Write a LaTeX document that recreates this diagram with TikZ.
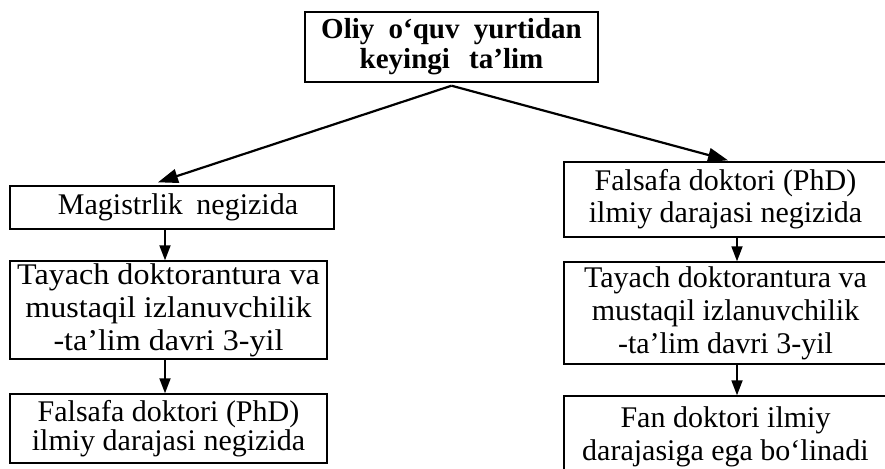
\documentclass[tikz,border=0pt]{standalone}
\usepackage{fontspec}
\setmainfont{Liberation Serif}
\newfontfamily\widefont[FakeStretch=1.07]{Liberation Serif}
\usetikzlibrary{arrows.meta}

\begin{document}
\begin{tikzpicture}[x=1pt,y=-1pt,
    box/.style={draw,line width=1.4pt,align=center,inner sep=0pt,font=\fontsize{30}{32}\selectfont},
    arr/.style={line width=1.8pt,-{Triangle[length=15pt,width=11pt]}},
    slant/.style={line width=2.2pt,-{Triangle[length=20pt,width=14pt]}}]
  \useasboundingbox (0,0) rectangle (885,468);
  \node[box,minimum width=293pt,minimum height=70pt,font=\bfseries\fontsize{29}{30}\selectfont] (top) at (451.5,47)
    {Oliy\hspace{7pt} o‘quv\hspace{7pt} yurtidan\\keyingi\hspace{12pt} ta’lim};
  % chap ustun
  \node[box,minimum width=324pt,minimum height=43pt] (mag) at (172,207.5) {\hspace*{12pt}Magistrlik\hspace{6pt} negizida};
  \node[box,minimum width=317pt,minimum height=98pt,font=\widefont\fontsize{30}{33}\selectfont] (tayL) at (168.5,310) {Tayach doktorantura va\\mustaqil izlanuvchilik\\-ta’lim davri 3-yil};
  \node[box,minimum width=317pt,minimum height=69pt,font=\fontsize{30}{29}\selectfont] (phdL) at (168.5,428.5) {Falsafa doktori (PhD)\\ilmiy darajasi negizida};
  % o'ng ustun
  \node[box,minimum width=323pt,minimum height=75pt] (phdR) at (725.5,199.5) {Falsafa doktori (PhD)\\ilmiy darajasi negizida};
  \node[box,minimum width=323pt,minimum height=102pt,font=\fontsize{30}{33}\selectfont] (tayR) at (725.5,313) {Tayach doktorantura va\\mustaqil izlanuvchilik\\-ta’lim davri 3-yil};
  \node[box,minimum width=323pt,minimum height=82pt,font=\fontsize{30}{33}\selectfont] (fan) at (725.5,437) {Fan doktori ilmiy\\darajasiga ega bo‘linadi};
  \draw[slant] ([yshift=-3pt]top.south) -- ([xshift=-14pt,yshift=3pt]mag.north);
  \draw[slant] ([yshift=-3pt]top.south) -- ([xshift=2.5pt,yshift=1pt]phdR.north);
  \draw[arr] ([xshift=-7pt]mag.south) -- ([xshift=-3.5pt]tayL.north);
  \draw[arr] ([xshift=-3.5pt]tayL.south) -- ([xshift=-3.5pt]phdL.north);
  \draw[arr] ([xshift=11.5pt]phdR.south) -- ([xshift=11.5pt]tayR.north);
  \draw[arr] ([xshift=11.5pt]tayR.south) -- ([xshift=11.5pt]fan.north);
\end{tikzpicture}
\end{document}
